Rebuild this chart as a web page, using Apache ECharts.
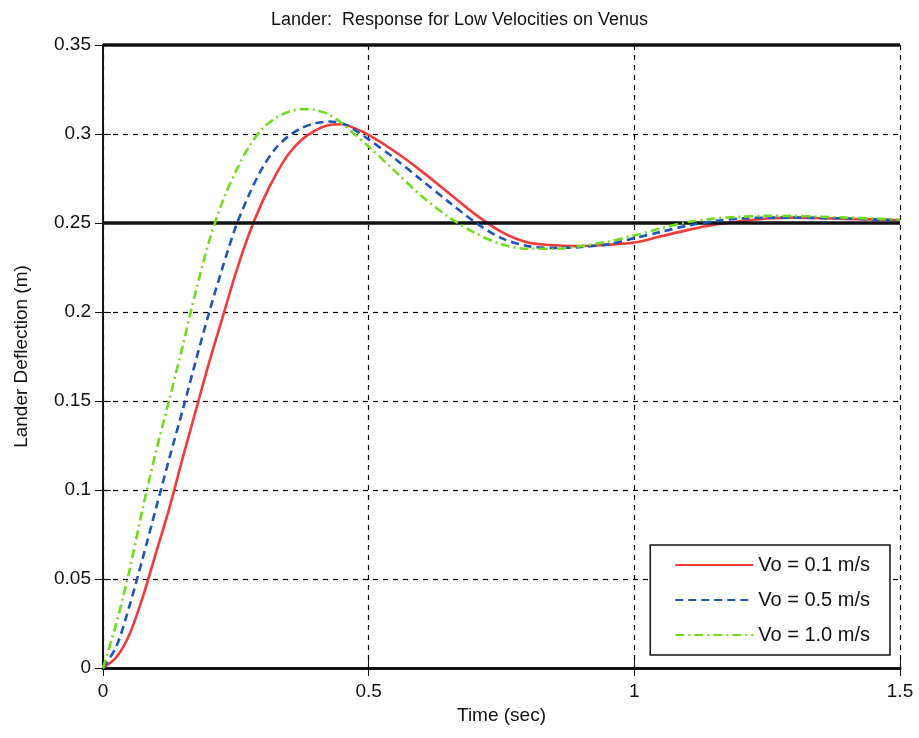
<!DOCTYPE html>
<html>
<head>
<meta charset="utf-8">
<script src="https://cdn.jsdelivr.net/npm/echarts@6/dist/echarts.min.js"></script>
<style>
  html, body { margin: 0; padding: 0; background: #fff; }
  #chart { width: 919px; height: 738px; }
</style>
</head>
<body>
<div id="chart"></div>
<script>
// time samples (sec)
var timeSec = [0, 0.025, 0.05, 0.075, 0.1, 0.125, 0.15, 0.175, 0.2, 0.225, 0.25, 0.275, 0.3, 0.325, 0.35, 0.375, 0.4, 0.425, 0.45, 0.475, 0.5,
  0.55, 0.6, 0.65, 0.7, 0.75, 0.8, 0.85, 0.9, 0.95, 1.0, 1.05, 1.1, 1.15, 1.2, 1.25, 1.3, 1.35, 1.4, 1.45, 1.5];

// deflection (m) for each initial velocity
var defl01 = [0, 0.006, 0.019, 0.040, 0.065, 0.090, 0.118, 0.145, 0.172, 0.197, 0.222, 0.244, 0.262, 0.277, 0.289, 0.297, 0.302, 0.305, 0.3055, 0.303, 0.2995,
  0.290, 0.279, 0.267, 0.255, 0.245, 0.239, 0.2375, 0.237, 0.2378, 0.239, 0.2425, 0.246, 0.249, 0.251, 0.2525, 0.253, 0.2527, 0.2523, 0.252, 0.2515];
var defl05 = [0, 0.012, 0.035, 0.062, 0.090, 0.118, 0.145, 0.173, 0.200, 0.225, 0.248, 0.266, 0.281, 0.292, 0.299, 0.3035, 0.306, 0.307, 0.306, 0.302, 0.297,
  0.286, 0.274, 0.262, 0.2505, 0.2415, 0.237, 0.236, 0.2365, 0.238, 0.2415, 0.245, 0.2485, 0.251, 0.2525, 0.253, 0.253, 0.2528, 0.2525, 0.252, 0.2515];
var defl10 = [0, 0.025, 0.055, 0.090, 0.122, 0.151, 0.181, 0.212, 0.240, 0.262, 0.279, 0.293, 0.303, 0.309, 0.3125, 0.314, 0.3135, 0.311, 0.306, 0.2995, 0.293,
  0.279, 0.265, 0.2535, 0.2445, 0.238, 0.2355, 0.2355, 0.237, 0.2395, 0.243, 0.247, 0.2505, 0.2525, 0.2535, 0.254, 0.254, 0.2535, 0.253, 0.2525, 0.252];

var seriesNames = ['Vo = 0.1 m/s', 'Vo = 0.5 m/s', 'Vo = 1.0 m/s'];
var xTicks = [0, 0.5, 1, 1.5];
var yTicks = [0, 0.05, 0.1, 0.15, 0.2, 0.25, 0.3, 0.35];
var limitLevels = [0.25, 0.35];

var font = "'Liberation Sans', Arial, sans-serif";

function pairs(ys) {
    return timeSec.map(function (t, i) { return [t, ys[i]]; });
}

var chart = echarts.init(document.getElementById('chart'));

var gridLine = {show: true, lineStyle: {color: '#000', type: [5, 5], width: 1.2}};

chart.setOption({
    backgroundColor: '#fff',
    animation: false,
    title: {
        text: 'Lander:  Response for Low Velocities on Venus',
        left: 'center', top: 6,
        textStyle: {fontFamily: font, fontSize: 18, fontWeight: 'normal', color: '#111'}
    },
    legend: {
        orient: 'vertical',
        right: 29, bottom: 83,
        itemWidth: 78, itemHeight: 16, itemGap: 15,
        padding: [10, 20, 10, 24],
        backgroundColor: '#fff',
        borderColor: '#111', borderWidth: 1.5,
        itemStyle: {opacity: 0},
        textStyle: {fontFamily: font, fontSize: 20, color: '#111'},
        data: seriesNames
    },
    grid: {left: 103, right: 19, top: 45, bottom: 70},
    xAxis: [{
        type: 'value', min: 0, max: 1.5, interval: 0.5,
        name: 'Time (sec)', nameLocation: 'middle', nameGap: 38,
        nameTextStyle: {fontFamily: font, fontSize: 19, color: '#111'},
        axisLine: {show: true, onZero: false, lineStyle: {color: '#111', width: 2}},
        axisTick: {show: true, inside: true, length: 8, lineStyle: {color: '#111'}},
        axisLabel: {fontFamily: font, fontSize: 19, color: '#111', margin: 14,
            formatter: function (v) { return xTicks.indexOf(v) >= 0 ? String(v) : ''; }},
        splitLine: gridLine
    }, {
        type: 'value', position: 'top', min: 0, max: 1.5, interval: 0.5,
        axisLine: {show: true, lineStyle: {color: '#111', width: 3}},
        axisTick: {show: true, inside: true, length: 8, lineStyle: {color: '#111'}},
        axisLabel: {show: false}, splitLine: {show: false}
    }],
    yAxis: [{
        type: 'value', min: 0, max: 0.35, interval: 0.05,
        name: 'Lander Deflection (m)', nameLocation: 'middle', nameGap: 72,
        nameTextStyle: {fontFamily: font, fontSize: 19, color: '#111'},
        axisLine: {show: true, onZero: false, lineStyle: {color: '#111', width: 2}},
        axisTick: {show: true, inside: true, length: 8, lineStyle: {color: '#111'}},
        axisLabel: {fontFamily: font, fontSize: 19, color: '#111', margin: 12,
            formatter: function (v) {
                var r = Math.round(v * 100) / 100;
                return yTicks.indexOf(r) >= 0 ? String(r) : '';
            }},
        splitLine: gridLine
    }, {
        type: 'value', position: 'right', min: 0, max: 0.35, interval: 0.05,
        axisLine: {show: true, lineStyle: {color: '#111', width: 2}},
        axisTick: {show: true, inside: true, length: 8, lineStyle: {color: '#111'}},
        axisLabel: {show: false}, splitLine: {show: false}
    }],
    series: [{
        name: seriesNames[0], type: 'line', data: pairs(defl01), smooth: 0.3,
        symbol: 'none', z: 4,
        lineStyle: {color: '#f23a3a', width: 2.6, type: 'solid'},
        itemStyle: {color: '#f23a3a'},
        markLine: {
            silent: true, symbol: 'none', label: {show: false},
            lineStyle: {color: '#111', width: 3.5, type: 'solid'},
            data: limitLevels.map(function (v) { return {yAxis: v}; })
        }
    }, {
        name: seriesNames[1], type: 'line', data: pairs(defl05), smooth: 0.3,
        symbol: 'none', z: 5,
        lineStyle: {color: '#1f55b8', width: 2.6, type: [8, 5]},
        itemStyle: {color: '#1f55b8'}
    }, {
        name: seriesNames[2], type: 'line', data: pairs(defl10), smooth: 0.3,
        symbol: 'none', z: 6,
        lineStyle: {color: '#6fdc1e', width: 2.6, type: [9, 4, 2, 4]},
        itemStyle: {color: '#6fdc1e'}
    }]
});
</script>
</body>
</html>
